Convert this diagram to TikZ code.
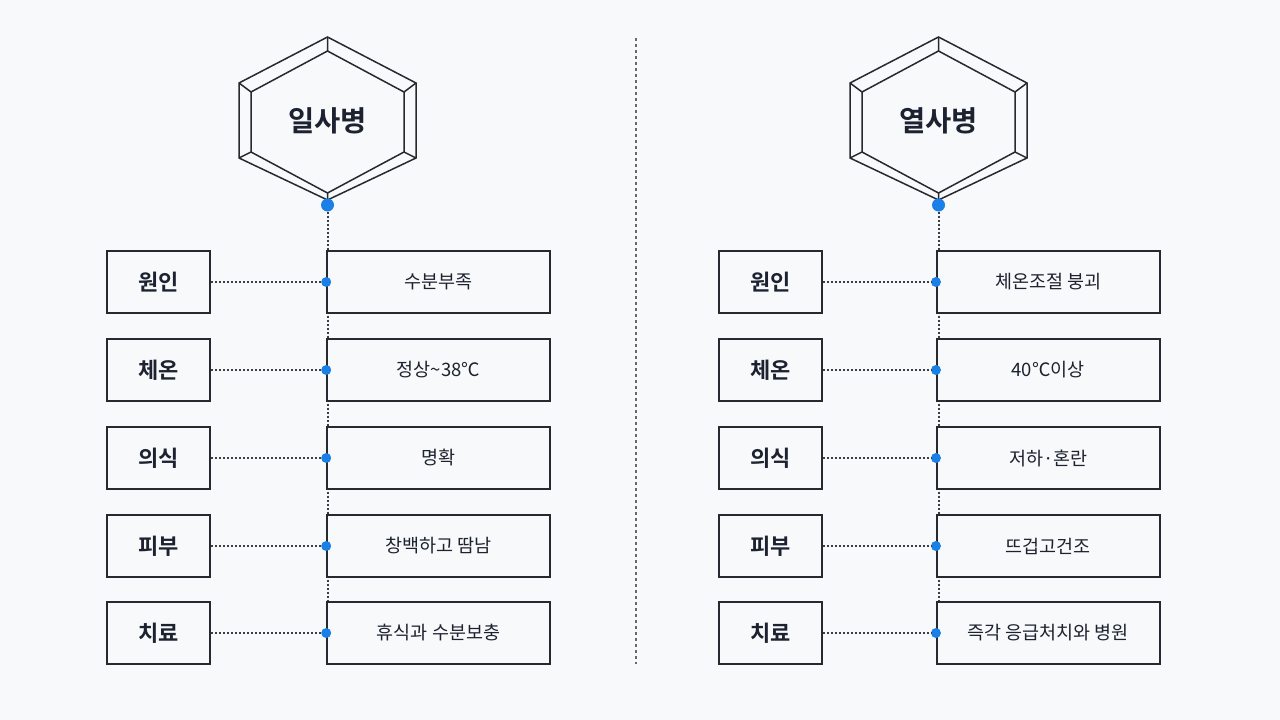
\documentclass[tikz,border=0pt]{standalone}
\usepackage{fontspec}
\setmainfont{Noto Sans CJK KR}[BoldFont={Noto Sans CJK KR Bold}]
\usepackage{tikz}
\definecolor{bgcol}{HTML}{F8F9FA}
\definecolor{inkcol}{HTML}{1C2230}
\definecolor{linecol}{HTML}{26292F}
\definecolor{dotblue}{HTML}{1A80E8}
\tikzstyle{edge} = [draw=linecol,line width=1.6pt]
\tikzstyle{hexline} = [draw=linecol,line width=1.5pt,line join=miter]
\tikzstyle{lbl} = [edge,fill=bgcol,minimum width=103pt,minimum height=62pt,inner sep=0pt,text=inkcol,font=\bfseries\fontsize{22}{25}\selectfont]
\tikzstyle{val} = [edge,fill=bgcol,minimum width=223pt,minimum height=62pt,inner sep=0pt,text=inkcol,font=\fontsize{18.5}{21}\selectfont]
\tikzstyle{pin} = [circle,fill=dotblue,inner sep=0pt,minimum size=10pt]
\tikzstyle{lo} = [draw=linecol!90,line width=2pt,dash pattern=on 2pt off 2pt]
\newcommand{\bevelhex}[1]{%
  \begin{scope}[shift={(#1,0)}]
    \draw[hexline] (0,37) -- (88.5,83) -- (88.5,158) -- (0,200) -- (-88.5,158) -- (-88.5,83) -- cycle;
    \draw[hexline] (0,51) -- (76.5,92) -- (76.5,152) -- (0,193) -- (-76.5,152) -- (-76.5,92) -- cycle;
    \draw[hexline] (0,37) -- (0,51) (88.5,83) -- (76.5,92) (88.5,158) -- (76.5,152)
      (0,200) -- (0,193) (-88.5,158) -- (-76.5,152) (-88.5,83) -- (-76.5,92);
  \end{scope}}

\begin{document}
\begin{tikzpicture}[x=1pt,y=-1pt,title/.style={text=inkcol,font=\bfseries\fontsize{28.5}{32}\selectfont}]

    \useasboundingbox[fill=bgcol] (0,0) rectangle (1280,720);

    % divider
    \draw[draw=linecol!70,line width=1.2pt,dash pattern=on 3pt off 3pt] (636,38) -- (636,664);

    % left column
    \bevelhex{327.5}
    \node[title] (sun) at (327.5,121) {일사병};
    \node[pin,minimum size=13pt] (sunpin) at (327.5,205) {};
    \coordinate (sunend) at (327.5,602);
    \draw[lo] (sunpin) -- (sunend);

    \node[lbl] (sa) at (158.5,282) {원인};
    \node[lbl] (sb) at (158.5,370) {체온};
    \node[lbl] (sc) at (158.5,458) {의식};
    \node[lbl] (sd) at (158.5,546) {피부};
    \node[lbl] (se) at (158.5,633) {치료};

    \node[val] (va) at (438.5,282) {수분부족};
    \node[val] (vb) at (438.5,370) {정상\textasciitilde 38℃};
    \node[val] (vc) at (438.5,458) {명확};
    \node[val] (vd) at (438.5,546) {창백하고 땀남};
    \node[val] (ve) at (438.5,633) {휴식과 수분보충};

    \node[pin] (pa) at (va.west) {};
    \node[pin] (pb) at (vb.west) {};
    \node[pin] (pc) at (vc.west) {};
    \node[pin] (pd) at (vd.west) {};
    \node[pin] (pe) at (ve.west) {};

    \draw[lo] (sa) -- (pa);
    \draw[lo] (sb) -- (pb);
    \draw[lo] (sc) -- (pc);
    \draw[lo] (sd) -- (pd);
    \draw[lo] (se) -- (pe);

    % right column
    \bevelhex{938.5}
    \node[title] (heat) at (938.5,121) {열사병};
    \node[pin,minimum size=13pt] (heatpin) at (938.5,205) {};
    \coordinate (heatend) at (938.5,602);
    \draw[lo] (heatpin) -- (heatend);

    \node[lbl] (ha) at (770.25,282) {원인};
    \node[lbl] (hb) at (770.25,370) {체온};
    \node[lbl] (hc) at (770.25,458) {의식};
    \node[lbl] (hd) at (770.25,546) {피부};
    \node[lbl] (he) at (770.25,633) {치료};

    \node[val] (wa) at (1048.25,282) {체온조절 붕괴};
    \node[val] (wb) at (1048.25,370) {40℃이상};
    \node[val] (wc) at (1048.25,458) {저하·혼란};
    \node[val] (wd) at (1048.25,546) {뜨겁고건조};
    \node[val] (we) at (1048.25,633) {즉각 응급처치와 병원};

    \node[pin] (qa) at (wa.west) {};
    \node[pin] (qb) at (wb.west) {};
    \node[pin] (qc) at (wc.west) {};
    \node[pin] (qd) at (wd.west) {};
    \node[pin] (qe) at (we.west) {};

    \draw[lo] (ha) -- (qa);
    \draw[lo] (hb) -- (qb);
    \draw[lo] (hc) -- (qc);
    \draw[lo] (hd) -- (qd);
    \draw[lo] (he) -- (qe);

\end{tikzpicture}
\end{document}
